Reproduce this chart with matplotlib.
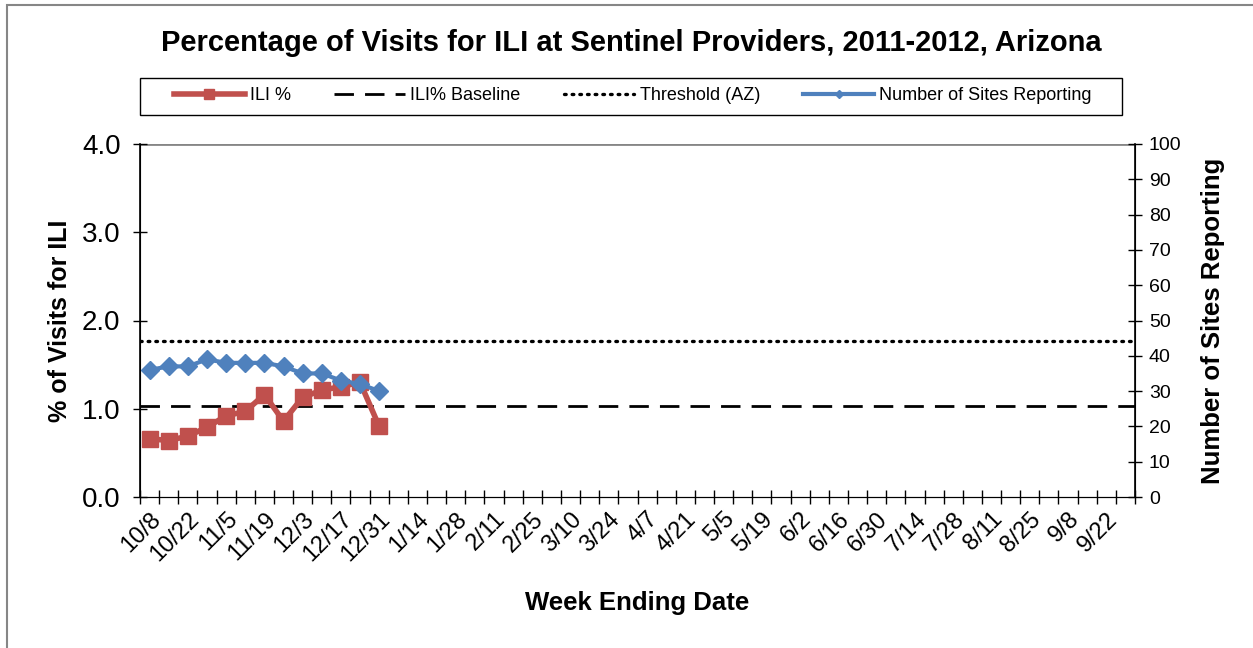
import matplotlib
matplotlib.use("Agg")
import matplotlib.pyplot as plt
from matplotlib.patches import Rectangle
from matplotlib.lines import Line2D
import numpy as np

plt.rcParams['font.family'] = ['Liberation Sans', 'DejaVu Sans']

# week ending dates, 2011-2012 season (52 weeks, labels every other week)
semanas = ["10/8", "10/15", "10/22", "10/29", "11/5", "11/12", "11/19", "11/26",
           "12/3", "12/10", "12/17", "12/24", "12/31", "1/7", "1/14", "1/21",
           "1/28", "2/4", "2/11", "2/18", "2/25", "3/3", "3/10", "3/17", "3/24",
           "3/31", "4/7", "4/14", "4/21", "4/28", "5/5", "5/12", "5/19", "5/26",
           "6/2", "6/9", "6/16", "6/23", "6/30", "7/7", "7/14", "7/21", "7/28",
           "8/4", "8/11", "8/18", "8/25", "9/1", "9/8", "9/15", "9/22", "9/29"]

ili_pct = [0.66, 0.64, 0.69, 0.79, 0.92, 0.97, 1.16, 0.86, 1.13, 1.21, 1.25, 1.30, 0.80]
sitios = [36, 37, 37, 39, 38, 38, 38, 37, 35, 35, 33, 32, 30]
baseline = 1.03
threshold = 1.77

vermelho = "#C0504D"
azul = "#4F81BD"

fig = plt.figure(figsize=(12.53, 6.48), dpi=100)

# moldura da area do grafico
fig.patches.append(Rectangle((7 / 1253, -0.1), 1.2, 1.1 - 5 / 648,
                             transform=fig.transFigure, fill=False,
                             edgecolor="#868686", linewidth=1.5))
# moldura da legenda (mais larga que o conteudo, como no Excel)
fig.patches.append(Rectangle((140 / 1253, 1 - 115 / 648), 982 / 1253, 37 / 648,
                             transform=fig.transFigure, fill=False,
                             edgecolor="black", linewidth=1))

ax = fig.add_axes([140 / 1253, 1 - 497 / 648, 995 / 1253, 353 / 648])
ax2 = ax.twinx()

n = len(semanas)
x = np.arange(n)

ax.axhline(baseline, color="black", linewidth=2, linestyle=(0, (7, 4)), zorder=2)
ax.axhline(threshold, color="black", linewidth=2.4, linestyle=(0, (0.5, 1.8)),
           dash_capstyle="round", zorder=2)
ax.plot(x[:len(ili_pct)], ili_pct, color=vermelho, linewidth=4, marker="s",
        markersize=11, zorder=4)
ax2.plot(x[:len(sitios)], sitios, color=azul, linewidth=3, marker="D",
         markersize=9, zorder=3)

# gridline no topo
ax.axhline(4.0, color="#868686", linewidth=2, zorder=1)

ax.set_xlim(-0.5, n - 0.5)
ax.set_ylim(0, 4)
ax2.set_ylim(0, 100)

ax.set_yticks([0, 1, 2, 3, 4])
ax.set_yticklabels(["0.0", "1.0", "2.0", "3.0", "4.0"], fontsize=20)
ax2.set_yticks(range(0, 101, 10))
ax2.tick_params(axis="y", labelsize=14, direction="inout", length=10, width=1, pad=5)
ax.tick_params(axis="y", direction="inout", length=10, width=1, pad=9)

# ticks entre categorias, rotulos a cada duas semanas
ax.set_xticks(np.arange(n + 1) - 0.5)
ax.set_xticklabels([])
ax.tick_params(axis="x", which="major", direction="inout", length=10, width=1)
ax.set_xticks(x[::2], minor=True)
ax.set_xticklabels(semanas[::2], minor=True, rotation=45, ha="right",
                   rotation_mode="anchor", fontsize=17)
ax.tick_params(axis="x", which="minor", length=0, pad=8)

for lado in ["top"]:
    ax.spines[lado].set_visible(False)
    ax2.spines[lado].set_visible(False)
ax.spines["left"].set_linewidth(1.2)
ax2.spines["right"].set_linewidth(1.2)

ax.set_ylabel("% of Visits for ILI", fontsize=18, fontweight="bold", labelpad=7)
ax2.set_ylabel("Number of Sites Reporting", fontsize=18.5, fontweight="bold", labelpad=14)
ax.set_xlabel("Week Ending Date", fontsize=18.5, fontweight="bold", labelpad=18)

fig.suptitle("Percentage of Visits for ILI at Sentinel Providers, 2011-2012, Arizona",
             fontsize=21, fontweight="bold", x=631 / 1253, y=1 - 43 / 648, va="center")

handles = [
    Line2D([], [], color=vermelho, linewidth=4, marker="s", markersize=7),
    Line2D([], [], color="black", linewidth=2, linestyle=(0, (7, 4))),
    Line2D([], [], color="black", linewidth=2.4, linestyle=(0, (0.5, 1.8)),
           dash_capstyle="round"),
    Line2D([], [], color=azul, linewidth=3, marker="D", markersize=4),
]
leg = fig.legend(handles, ["ILI %", "ILI% Baseline", "Threshold (AZ)",
                           "Number of Sites Reporting"],
                 loc="center", bbox_to_anchor=(633 / 1253, 1 - 96 / 648), ncol=4,
                 fontsize=13, frameon=False,
                 handlelength=3.9, handletextpad=0.3, columnspacing=2.4,
                 borderpad=0.2, borderaxespad=0)

fig.savefig("out.png", dpi=100)
